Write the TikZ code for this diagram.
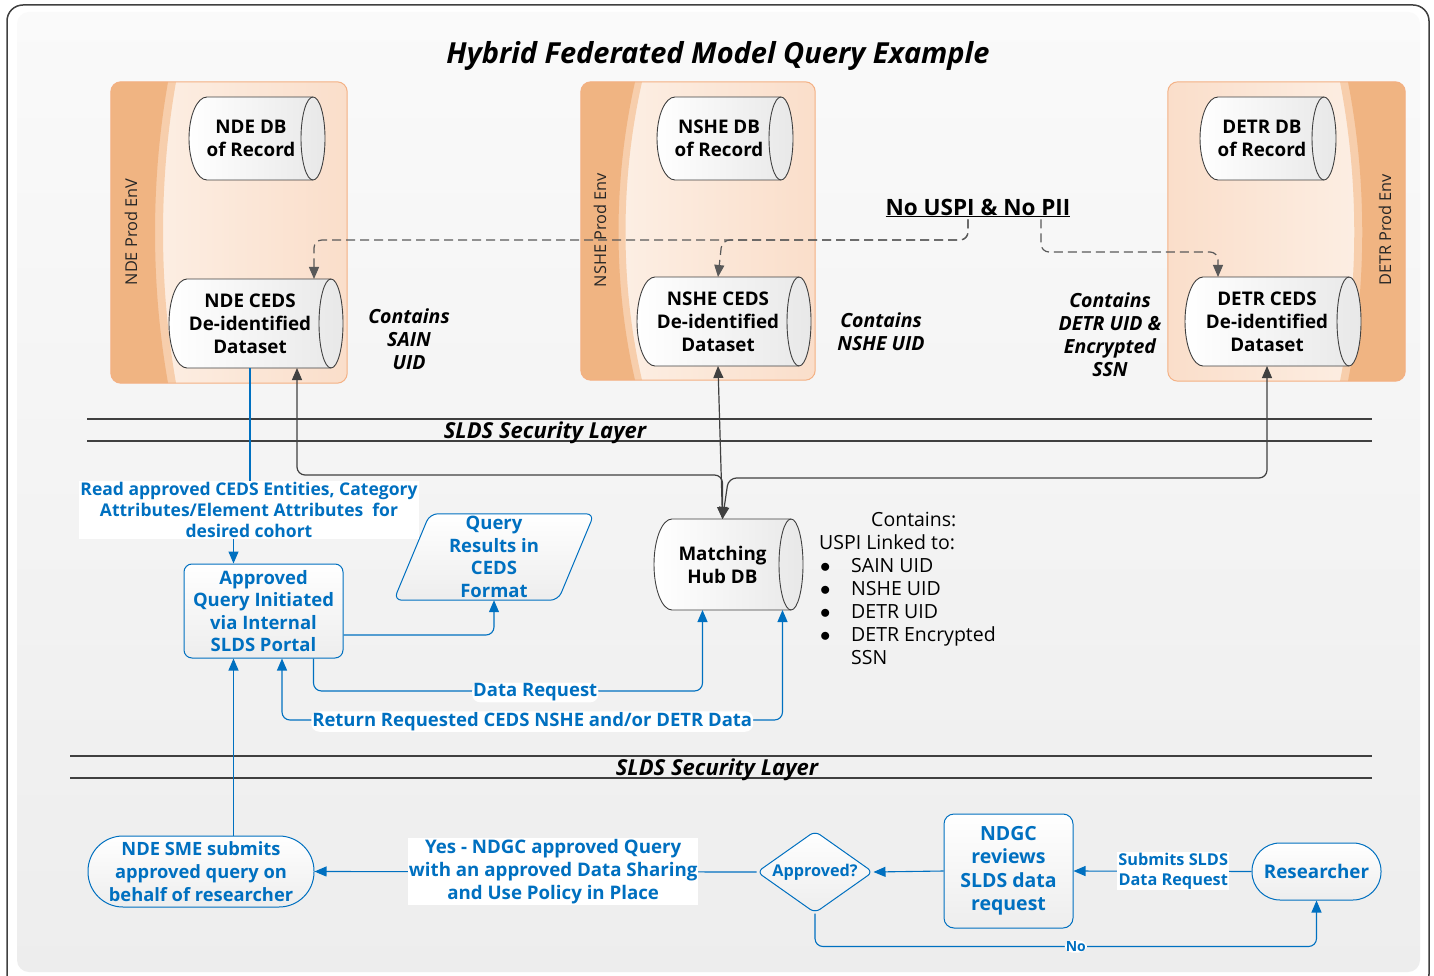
\documentclass[tikz,border=0pt]{standalone}
\usepackage{fontspec}
\setmainfont{Open Sans}
\usetikzlibrary{arrows.meta,shapes.geometric,calc}
\pgfdeclarelayer{envl}
\pgfdeclarelayer{bgl}
\pgfsetlayers{envl,bgl,main}
\definecolor{blu}{RGB}{0,112,192}
\definecolor{dk}{RGB}{64,64,64}
\definecolor{bandd}{RGB}{240,180,130}
\definecolor{bandl}{RGB}{247,206,172}
\definecolor{peach}{RGB}{250,222,202}
\definecolor{peachl}{RGB}{253,242,233}
\definecolor{envbd}{RGB}{244,176,131}
\newcommand\cylshape[2]{%
\begin{pgfonlayer}{bgl}
\draw[cylbody] ([xshift=18pt]#1.north west) -- (#1.north east) arc[start angle=90,end angle=-90,x radius=12pt,y radius=#2pt] -- ([xshift=18pt]#1.south west) arc[start angle=270,end angle=90,x radius=18pt,y radius=#2pt] -- cycle;
\draw[cylline] (#1.north east) arc[start angle=90,end angle=270,x radius=12pt,y radius=#2pt];
\end{pgfonlayer}}
\newcommand\bul{\makebox[32pt][l]{\hspace*{1pt}$\bullet$}}
\begin{document}
\begin{tikzpicture}[x=1pt,y=-1pt,
  cylbody/.style={draw=dk, line width=0.9pt, left color=white, right color=black!9},
  cylline/.style={draw=dk, line width=0.9pt},
  cyltext/.style={font=\bfseries\fontsize{18.8}{23}\selectfont, align=center, inner sep=0pt, outer sep=0pt, text=black},
  envnode/.style={draw=none, rounded corners=10pt, inner sep=0pt},
  envlabel/.style={font=\fontsize{16.3}{18}\selectfont, text=black!85},
  contains/.style={font=\bfseries\itshape\fontsize{19.5}{23}\selectfont, align=center, text=black},
  sectext/.style={font=\bfseries\itshape\fontsize{22}{24}\selectfont, text=black, inner sep=0pt},
  secline/.style={draw=dk, line width=2.2pt},
  bluetext/.style={text=blu, font=\bfseries\fontsize{18.5}{22.5}\selectfont, align=center},
  bluebox/.style={bluetext, draw=blu, line width=1pt, rounded corners=8pt, top color=white, bottom color=black!7, inner sep=0pt},
  lbl/.style={bluetext, fill=white, inner sep=1pt},
  bline/.style={draw=blu, line width=1.1pt},
  dline/.style={draw=dk, line width=1.2pt},
  dashln/.style={draw=black!65, line width=1.2pt, dash pattern=on 9pt off 5pt},
  tipb/.style={-{Triangle[length=12pt,width=10pt]}},
  tipbb/.style={{Triangle[length=12pt,width=10pt]}-{Triangle[length=12pt,width=10pt]}},
]
\useasboundingbox (0,0) rectangle (1434,976);
% frame
\begin{pgfonlayer}{envl}
\draw[dk, line width=1.5pt, fill=white, rounded corners=16pt] (7,5) rectangle (1429,990);
\shade[top color=black!2, bottom color=black!7, rounded corners=12pt] (17,12) rectangle (1420,972);
\end{pgfonlayer}
\node[font=\bfseries\itshape\fontsize{29}{32}\selectfont] (title) at (718,56) {Hybrid Federated Model Query Example};

% environments
\begin{pgfonlayer}{envl}
\node[envnode, minimum width=236pt, minimum height=301pt, left color=peachl, right color=peach] (ndeenv) at (229,232.5) {};
\begin{scope}
\clip[rounded corners=10pt] (ndeenv.north west) rectangle (ndeenv.south east);
\fill[bandl] (100,82) -- (176,82) .. controls (158.7,180) and (158.7,285) .. (176,383) -- (100,383) -- cycle;
\fill[bandd] (100,82) -- (168,82) .. controls (150.7,180) and (150.7,285) .. (168,383) -- (100,383) -- cycle;
\end{scope}
\draw[envbd, line width=1pt, rounded corners=10pt] (ndeenv.north west) rectangle (ndeenv.south east);

\node[envnode, minimum width=234pt, minimum height=298pt, left color=peachl, right color=peach] (nsheenv) at (698,231) {};
\begin{scope}
\clip[rounded corners=10pt] (nsheenv.north west) rectangle (nsheenv.south east);
\fill[bandl] (570,82) -- (642,82) .. controls (620,180) and (620,285) .. (642,380) -- (570,380) -- cycle;
\fill[bandd] (570,82) -- (635,82) .. controls (613,180) and (613,285) .. (635,380) -- (570,380) -- cycle;
\end{scope}
\draw[envbd, line width=1pt, rounded corners=10pt] (nsheenv.north west) rectangle (nsheenv.south east);

\node[envnode, minimum width=237pt, minimum height=299pt, left color=peach, right color=peachl] (detrenv) at (1286.5,231.5) {};
\begin{scope}
\clip[rounded corners=10pt] (detrenv.north west) rectangle (detrenv.south east);
\fill[bandl] (1415,82) -- (1340,82) .. controls (1359,180) and (1359,285) .. (1340,381) -- (1415,381) -- cycle;
\fill[bandd] (1415,82) -- (1348,82) .. controls (1367,180) and (1367,285) .. (1348,381) -- (1415,381) -- cycle;
\end{scope}
\draw[envbd, line width=1pt, rounded corners=10pt] (detrenv.north west) rectangle (detrenv.south east);
\end{pgfonlayer}
\node[envlabel, rotate=90] (ndelbl) at (131,232) {NDE Prod EnV};
\node[envlabel, rotate=90] (nshelbl) at (600,230) {NSHE Prod Env};
\node[envlabel, rotate=90] (detrlbl) at (1385,230) {DETR Prod Env};

% cylinders
\node[cyltext, minimum width=124pt, minimum height=83pt] (ndedb) at (251,138.5) {NDE DB\\of Record};
\cylshape{ndedb}{41.5}
\node[cyltext, minimum width=162pt, minimum height=89pt] (ndeceds) at (250,323.5) {NDE CEDS\\De-identified\\Dataset};
\cylshape{ndeceds}{44.5}
\node[cyltext, minimum width=124pt, minimum height=83pt] (nshedb) at (719,138.5) {NSHE DB\\of Record};
\cylshape{nshedb}{41.5}
\node[cyltext, minimum width=162pt, minimum height=89pt] (nsheceds) at (718,321.5) {NSHE CEDS\\De-identified\\Dataset};
\cylshape{nsheceds}{44.5}
\node[cyltext, minimum width=124pt, minimum height=83pt] (detrdb) at (1262,138.5) {DETR DB\\of Record};
\cylshape{detrdb}{41.5}
\node[cyltext, minimum width=164pt, minimum height=89pt] (detrceds) at (1267,321.5) {DETR CEDS\\De-identified\\Dataset};
\cylshape{detrceds}{44.5}
\node[cyltext, minimum width=137pt, minimum height=91pt] (hub) at (722.5,564.5) {Matching\\Hub DB};
\cylshape{hub}{45.5}

% side texts
\node[contains] (cs1) at (409,339) {Contains\\SAIN\\UID};
\node[contains] (cs2) at (881,332) {Contains\\NSHE UID};
\node[contains] (cs3) at (1110,335) {Contains\\DETR UID \&\\Encrypted\\SSN};
\node[font=\bfseries\fontsize{22.5}{26}\selectfont, inner sep=2pt] (nousp) at (978,208) {\underline{No USPI \& No PII}};
\node[font=\fontsize{19.5}{23}\selectfont, align=left, anchor=north west, inner sep=0pt] (hubtxt) at (819,512)
 {\hspace*{52pt}Contains:\\USPI Linked to:\\
  \bul SAIN UID\\
  \bul NSHE UID\\
  \bul DETR UID\\
  \bul DETR Encrypted\\
  \hspace*{32pt}SSN};

% security layers
\draw[secline] (87,419) -- (1372,419);
\draw[secline] (87,441) -- (1372,441);
\node[sectext] (sec1) at (545,433) {SLDS Security Layer};
\draw[secline] (70,756) -- (1372,756);
\draw[secline] (70,778) -- (1372,778);
\node[sectext] (sec2) at (717,770) {SLDS Security Layer};

% dashed connectors
\draw[dashln, tipb, rounded corners=8pt] ([xshift=-10pt]nousp.south) |- ([xshift=64pt,yshift=39pt]ndeceds.north) -- ([xshift=64pt]ndeceds.north);
\draw[dashln, tipb, rounded corners=8pt] ([xshift=-10pt]nousp.south) |- ([xshift=4pt,yshift=37pt]nsheceds.north) -- (nsheceds.north);
\draw[dashln, tipb, rounded corners=8pt] ([xshift=63pt]nousp.south) |- ([xshift=-49pt,yshift=25pt]detrceds.north) -- ([xshift=-49pt]detrceds.north);

% dark connectors to hub
\draw[dline, tipbb, rounded corners=8pt] ([xshift=47pt]ndeceds.south) |- ([yshift=44pt]hub.north) -- (hub.north);
\draw[dline, tipbb] (nsheceds.south) -- (hub.north);
\draw[dline, tipbb, rounded corners=8pt] (detrceds.south) |- ([xshift=6pt,yshift=41pt]hub.north) -- (hub.north);

% lower blue nodes
\node[lbl, font=\bfseries\fontsize{17.5}{21}\selectfont] (readlbl) at (249,510) {Read approved CEDS Entities, Category\\Attributes/Element Attributes\ \ for\\desired cohort};
\node[bluebox, minimum width=159pt, minimum height=94pt] (approved) at (263.5,611) {Approved\\Query Initiated\\via Internal\\SLDS Portal};
\coordinate (apin) at ([xshift=-30pt]approved.north);
\node[bluetext, minimum width=164pt, minimum height=86pt, inner sep=0pt] (qres) at (494,557) {Query\\Results in\\CEDS\\Format};
\begin{pgfonlayer}{bgl}
\draw[draw=blu, line width=1pt, top color=white, bottom color=black!7, rounded corners=8pt]
 ([xshift=18pt]qres.north west) -- ([xshift=18pt]qres.north east) -- ([xshift=-18pt]qres.south east) -- ([xshift=-18pt]qres.south west) -- cycle;
\end{pgfonlayer}

\draw[bline] (ndeceds.south) -- (ndeceds.south |- readlbl.north);
\draw[bline, tipb] (readlbl.south -| apin) -- (apin);
\draw[bline, tipb, rounded corners=8pt] ([yshift=-24pt]approved.east) -| (qres.south);
\draw[bline, tipb, rounded corners=8pt] ([xshift=50pt]approved.south) |- node[lbl, pos=0.785, yshift=-1.5pt] (datareq) {Data Request} ([xshift=-20pt,yshift=-81pt]hub.south) -- ([xshift=-20pt]hub.south);
\draw[bline, tipbb, rounded corners=8pt] ([xshift=18.5pt]approved.south) |- node[lbl, pos=0.75, yshift=-1.5pt] (retlbl) {Return Requested CEDS NSHE and/or DETR Data} ([xshift=60pt,yshift=-110pt]hub.south) -- ([xshift=60pt]hub.south);

% bottom row
\node[bluebox, rounded corners=35pt, minimum width=226pt, minimum height=71pt, font=\bfseries\fontsize{18.3}{23}\selectfont] (ndesme) at (201,871.5) {NDE SME submits\\approved query on\\behalf of researcher};
\node[bluebox, diamond, aspect=1.4, minimum width=116pt, minimum height=82pt, inner sep=0pt, rounded corners=6pt, font=\bfseries\fontsize{16.2}{18}\selectfont] (appr) at (815,872) {Approved?};
\node[bluebox, rounded corners=10pt, minimum width=129pt, minimum height=114pt, font=\bfseries\fontsize{19.5}{23.5}\selectfont] (ndgc) at (1008.5,871) {NDGC\\reviews\\SLDS data\\request};
\node[bluebox, rounded corners=28pt, minimum width=129pt, minimum height=57pt, font=\bfseries\fontsize{18.8}{22}\selectfont] (researcher) at (1316.5,871.5) {Researcher};

\draw[bline, tipb] (ndesme.north -| apin) -- (apin |- approved.south);
\draw[bline, tipb] (researcher.west) -- node[lbl, pos=0.44, font=\bfseries\fontsize{16.3}{19.5}\selectfont] (sublbl) {Submits SLDS\\Data Request} (ndgc.east);
\draw[bline, tipb] (ndgc.west) -- (appr.east);
\draw[bline, tipb] (appr.west) -- node[lbl, pos=0.46, font=\bfseries\fontsize{18.7}{23}\selectfont] (yeslbl) {Yes - NDGC approved Query\\with an approved Data Sharing\\and Use Policy in Place} (ndesme.east);
\draw[bline, tipb, rounded corners=8pt] (appr.south) |- node[lbl, pos=0.76, font=\bfseries\fontsize{14}{15}\selectfont] (nolbl) {No} ([yshift=-46pt]researcher.south) -- (researcher.south);
\end{tikzpicture}
\end{document}
